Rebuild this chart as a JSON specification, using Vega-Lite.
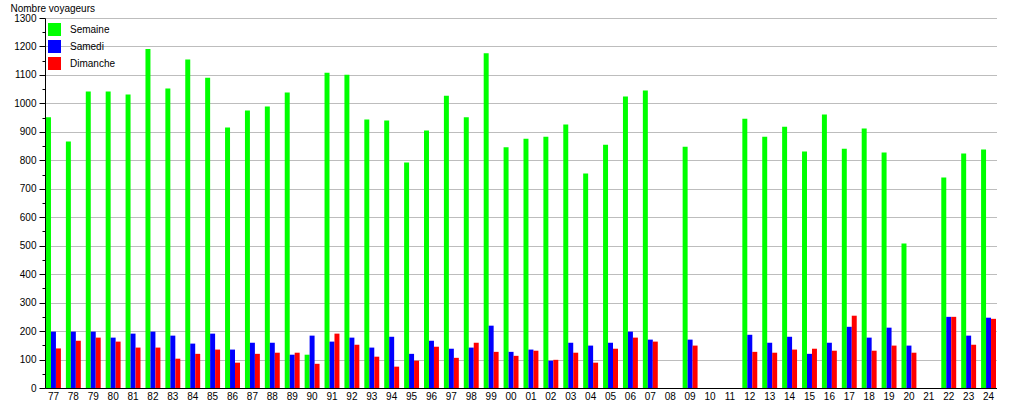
{
  "$schema": "https://vega.github.io/schema/vega-lite/v6.json",
  "width": 952,
  "height": 370,
  "padding": {"left": 10, "top": 3, "right": 0, "bottom": 0},
  "config": {
    "font": "Liberation Sans",
    "view": {"stroke": null},
    "axis": {"labelFontSize": 10, "labelColor": "#000000", "titleFontSize": 10, "titleFontWeight": "normal", "titleColor": "#000000", "domainColor": "#000000", "tickColor": "#000000"}
  },
  "datasets": {
    "t": [
      {"an":"77","type":"Semaine","v":951},{"an":"77","type":"Samedi","v":198},{"an":"77","type":"Dimanche","v":139},
      {"an":"78","type":"Semaine","v":866},{"an":"78","type":"Samedi","v":198},{"an":"78","type":"Dimanche","v":166},
      {"an":"79","type":"Semaine","v":1042},{"an":"79","type":"Samedi","v":198},{"an":"79","type":"Dimanche","v":177},
      {"an":"80","type":"Semaine","v":1042},{"an":"80","type":"Samedi","v":177},{"an":"80","type":"Dimanche","v":163},
      {"an":"81","type":"Semaine","v":1031},{"an":"81","type":"Samedi","v":191},{"an":"81","type":"Dimanche","v":142},
      {"an":"82","type":"Semaine","v":1191},{"an":"82","type":"Samedi","v":198},{"an":"82","type":"Dimanche","v":142},
      {"an":"83","type":"Semaine","v":1052},{"an":"83","type":"Samedi","v":184},{"an":"83","type":"Dimanche","v":103},
      {"an":"84","type":"Semaine","v":1154},{"an":"84","type":"Samedi","v":156},{"an":"84","type":"Dimanche","v":120},
      {"an":"85","type":"Semaine","v":1090},{"an":"85","type":"Samedi","v":191},{"an":"85","type":"Dimanche","v":135},
      {"an":"86","type":"Semaine","v":915},{"an":"86","type":"Samedi","v":135},{"an":"86","type":"Dimanche","v":89},
      {"an":"87","type":"Semaine","v":975},{"an":"87","type":"Samedi","v":159},{"an":"87","type":"Dimanche","v":120},
      {"an":"88","type":"Semaine","v":989},{"an":"88","type":"Samedi","v":159},{"an":"88","type":"Dimanche","v":124},
      {"an":"89","type":"Semaine","v":1038},{"an":"89","type":"Samedi","v":117},{"an":"89","type":"Dimanche","v":124},
      {"an":"90","type":"Semaine","v":117},{"an":"90","type":"Samedi","v":184},{"an":"90","type":"Dimanche","v":85},
      {"an":"91","type":"Semaine","v":1108},{"an":"91","type":"Samedi","v":163},{"an":"91","type":"Dimanche","v":191},
      {"an":"92","type":"Semaine","v":1101},{"an":"92","type":"Samedi","v":177},{"an":"92","type":"Dimanche","v":152},
      {"an":"93","type":"Semaine","v":943},{"an":"93","type":"Samedi","v":142},{"an":"93","type":"Dimanche","v":110},
      {"an":"94","type":"Semaine","v":940},{"an":"94","type":"Samedi","v":180},{"an":"94","type":"Dimanche","v":75},
      {"an":"95","type":"Semaine","v":792},{"an":"95","type":"Samedi","v":120},{"an":"95","type":"Dimanche","v":96},
      {"an":"96","type":"Semaine","v":905},{"an":"96","type":"Samedi","v":166},{"an":"96","type":"Dimanche","v":145},
      {"an":"97","type":"Semaine","v":1027},{"an":"97","type":"Samedi","v":138},{"an":"97","type":"Dimanche","v":106},
      {"an":"98","type":"Semaine","v":951},{"an":"98","type":"Samedi","v":142},{"an":"98","type":"Dimanche","v":159},
      {"an":"99","type":"Semaine","v":1176},{"an":"99","type":"Samedi","v":219},{"an":"99","type":"Dimanche","v":127},
      {"an":"00","type":"Semaine","v":846},{"an":"00","type":"Samedi","v":127},{"an":"00","type":"Dimanche","v":113},
      {"an":"01","type":"Semaine","v":876},{"an":"01","type":"Samedi","v":135},{"an":"01","type":"Dimanche","v":131},
      {"an":"02","type":"Semaine","v":883},{"an":"02","type":"Samedi","v":96},{"an":"02","type":"Dimanche","v":99},
      {"an":"03","type":"Semaine","v":926},{"an":"03","type":"Samedi","v":159},{"an":"03","type":"Dimanche","v":124},
      {"an":"04","type":"Semaine","v":754},{"an":"04","type":"Samedi","v":149},{"an":"04","type":"Dimanche","v":89},
      {"an":"05","type":"Semaine","v":855},{"an":"05","type":"Samedi","v":159},{"an":"05","type":"Dimanche","v":138},
      {"an":"06","type":"Semaine","v":1024},{"an":"06","type":"Samedi","v":198},{"an":"06","type":"Dimanche","v":177},
      {"an":"07","type":"Semaine","v":1045},{"an":"07","type":"Samedi","v":170},{"an":"07","type":"Dimanche","v":163},
      {"an":"09","type":"Semaine","v":848},{"an":"09","type":"Samedi","v":170},{"an":"09","type":"Dimanche","v":149},
      {"an":"12","type":"Semaine","v":946},{"an":"12","type":"Samedi","v":187},{"an":"12","type":"Dimanche","v":127},
      {"an":"13","type":"Semaine","v":883},{"an":"13","type":"Samedi","v":159},{"an":"13","type":"Dimanche","v":124},
      {"an":"14","type":"Semaine","v":918},{"an":"14","type":"Samedi","v":180},{"an":"14","type":"Dimanche","v":135},
      {"an":"15","type":"Semaine","v":831},{"an":"15","type":"Samedi","v":120},{"an":"15","type":"Dimanche","v":138},
      {"an":"16","type":"Semaine","v":961},{"an":"16","type":"Samedi","v":159},{"an":"16","type":"Dimanche","v":131},
      {"an":"17","type":"Semaine","v":841},{"an":"17","type":"Samedi","v":215},{"an":"17","type":"Dimanche","v":254},
      {"an":"18","type":"Semaine","v":912},{"an":"18","type":"Samedi","v":177},{"an":"18","type":"Dimanche","v":131},
      {"an":"19","type":"Semaine","v":827},{"an":"19","type":"Samedi","v":212},{"an":"19","type":"Dimanche","v":149},
      {"an":"20","type":"Semaine","v":508},{"an":"20","type":"Samedi","v":149},{"an":"20","type":"Dimanche","v":124},
      {"an":"22","type":"Semaine","v":740},{"an":"22","type":"Samedi","v":250},{"an":"22","type":"Dimanche","v":250},
      {"an":"23","type":"Semaine","v":824},{"an":"23","type":"Samedi","v":184},{"an":"23","type":"Dimanche","v":152},
      {"an":"24","type":"Semaine","v":838},{"an":"24","type":"Samedi","v":247},{"an":"24","type":"Dimanche","v":243}
    ]
  },
  "data": {"name": "t"},
  "layer": [
    {
      "mark": {"type": "bar", "opacity": 0},
      "encoding": {
        "x": {"field": "an", "type": "nominal", "title": null,
          "scale": {"domain": ["77","78","79","80","81","82","83","84","85","86","87","88","89","90","91","92","93","94","95","96","97","98","99","00","01","02","03","04","05","06","07","08","09","10","11","12","13","14","15","16","17","18","19","20","21","22","23","24"], "paddingInner": 0.25, "paddingOuter": 0.05},
          "axis": {"labelAngle": 0, "ticks": false, "labelPadding": 3, "labelDx": 4, "grid": false}},
        "xOffset": {"field": "type", "type": "nominal", "scale": {"domain": ["Semaine","Samedi","Dimanche"], "paddingInner": 0, "paddingOuter": 0}},
        "y": {"field": "v", "type": "quantitative", "stack": null, "scale": {"domain": [0, 1300]},
          "axis": {"orient": "left", "values": [50,150,250,350,450,550,650,750,850,950,1050,1150,1250], "labels": false, "grid": false, "domain": false, "tickSize": 3, "title": null}}
      }
    },
    {
      "mark": {"type": "bar"},
      "encoding": {
        "x": {"field": "an", "type": "nominal", "title": null,
          "scale": {"domain": ["77","78","79","80","81","82","83","84","85","86","87","88","89","90","91","92","93","94","95","96","97","98","99","00","01","02","03","04","05","06","07","08","09","10","11","12","13","14","15","16","17","18","19","20","21","22","23","24"], "paddingInner": 0.25, "paddingOuter": 0.05},
          "axis": {"labelAngle": 0, "ticks": false, "labelPadding": 3, "labelDx": 4, "grid": false}},
        "xOffset": {"field": "type", "type": "nominal", "scale": {"domain": ["Semaine","Samedi","Dimanche"], "paddingInner": 0, "paddingOuter": 0}},
        "y": {"field": "v", "type": "quantitative", "stack": null, "scale": {"domain": [0, 1300]},
          "axis": {"orient": "left", "format": "d", "values": [0,100,200,300,400,500,600,700,800,900,1000,1100,1200,1300], "tickSize": 6, "labelPadding": 3, "grid": true, "gridColor": "#bdbdbd", "gridWidth": 1, "gridOpacity": 1,
            "title": "Nombre voyageurs", "titleAngle": 0, "titleAlign": "left", "titleBaseline": "alphabetic", "titleX": -35, "titleY": -7}},
        "color": {"field": "type", "type": "nominal",
          "scale": {"domain": ["Semaine","Samedi","Dimanche"], "range": ["#00ff00","#0000ff","#ff0000"]},
          "legend": {"title": null, "orient": "none", "legendX": 3, "legendY": 5, "padding": 0, "symbolType": "square", "symbolSize": 169, "symbolStrokeWidth": 0, "symbolOpacity": 1, "labelFontSize": 10, "labelColor": "#000000", "labelOffset": 9, "rowPadding": 4}}
      }
    }
  ],
  "resolve": {"axis": {"y": "independent"}}
}
